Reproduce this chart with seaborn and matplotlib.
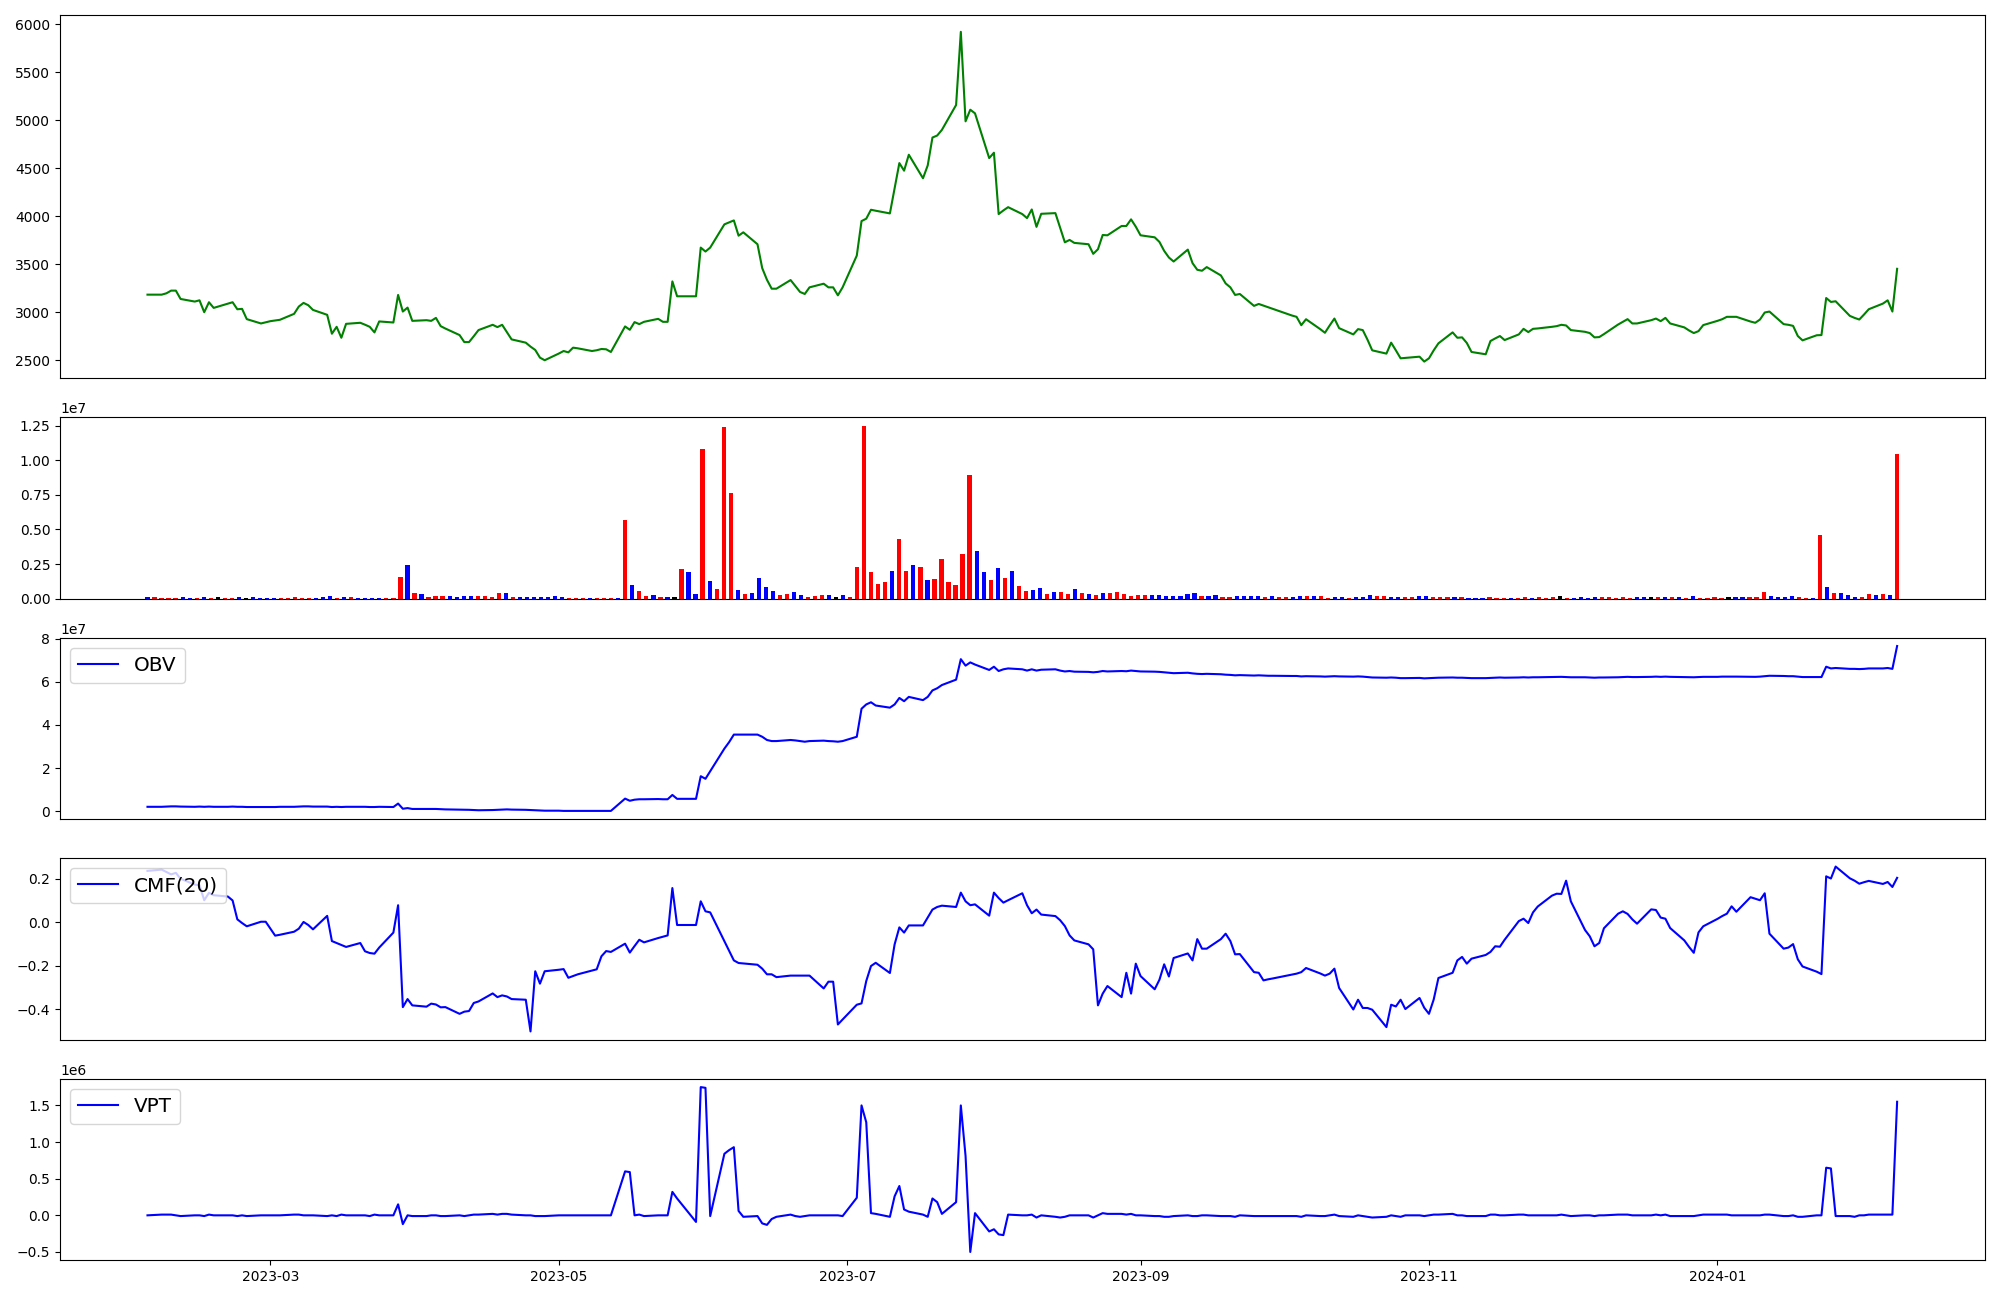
import matplotlib
matplotlib.use("Agg")
import matplotlib.pyplot as plt
import seaborn as sns
import pandas as pd
import numpy as np

# weekday dates of the line panels
dates = pd.bdate_range("2023-02-03", "2024-02-08")

close = [
    3183, 3183, 3197, 3225, 3225, 3138, 3111, 3124, 3000, 3104, 3045, 3090, 3104, 3031, 3035, 2928, 2883, 2895,
    2907, 2914, 2921, 2983, 3059, 3097, 3073, 3024, 2973, 2776, 2848, 2734, 2879, 2890, 2870, 2848, 2790, 2904,
    2893, 3180, 3007, 3048, 2910,
    2917, 2910, 2941, 2855, 2830, 2762, 2689, 2689, 2750, 2814, 2869, 2845, 2869, 2793, 2717, 2683, 2642, 2607,
    2527, 2500,
    2570, 2596, 2582, 2631, 2624, 2596, 2604, 2617, 2614, 2586, 2852, 2817, 2897, 2876, 2900, 2931, 2900, 2900,
    3321, 3166, 3166, 3166, 3673,
    3632, 3673, 3915, 3936, 3956, 3797, 3832, 3708, 3459, 3338, 3245, 3245, 3335, 3273, 3211, 3190, 3259, 3297,
    3259, 3259, 3176, 3259,
    3590, 3949, 3974, 4067, 4057, 4029, 4291, 4553, 4474, 4640, 4395, 4529, 4819, 4840, 4899, 5158, 5920, 4988,
    5109, 5071, 4605,
    4661, 4022, 4060, 4094, 4022, 3980, 4070, 3889, 4025, 4032, 3880, 3728, 3753, 3722, 3708, 3608, 3656, 3804,
    3801, 3898, 3898, 3967, 3891,
    3801, 3780, 3732, 3639, 3570, 3528, 3652, 3511, 3442, 3432, 3470, 3383, 3300, 3259, 3180, 3190, 3066, 3086,
    3069, 3052, 3035,
    2983, 2966, 2952, 2865, 2927, 2824, 2786, 2862, 2934, 2834, 2769, 2824, 2814, 2714, 2603, 2569, 2683, 2603,
    2520, 2524, 2537, 2486,
    2520, 2603, 2676, 2790, 2734, 2738, 2680, 2586, 2562, 2700, 2727, 2752, 2710, 2769, 2827, 2793, 2827, 2831,
    2848, 2855, 2869, 2862,
    2814, 2796, 2783, 2738, 2741, 2772, 2872, 2900, 2928, 2883, 2883, 2917, 2934, 2907, 2941, 2883, 2842, 2810,
    2783, 2803, 2866,
    2910, 2927, 2952, 2952, 2952, 2903, 2890, 2924, 2997, 3007, 2876, 2869, 2858, 2752, 2707, 2760, 2762, 3148,
    3107, 3114, 2962, 2941, 2924,
    2976, 3031, 3090, 3124, 3007, 3452,
]

obv_e7 = [
    0.20, 0.20, 0.21, 0.22, 0.22, 0.21, 0.20, 0.21, 0.20, 0.21, 0.20, 0.20, 0.21, 0.20, 0.20, 0.19, 0.19, 0.19,
    0.19, 0.19, 0.20, 0.20, 0.21, 0.22, 0.22, 0.21, 0.21, 0.19, 0.20, 0.19, 0.20, 0.20, 0.20, 0.19, 0.19, 0.20,
    0.19, 0.35, 0.11, 0.14, 0.10,
    0.10, 0.10, 0.10, 0.09, 0.08, 0.07, 0.07, 0.06, 0.05, 0.04, 0.05, 0.06, 0.07, 0.08, 0.07, 0.06, 0.05, 0.04,
    0.03, 0.02,
    0.02, 0.01, 0.01, 0.01, 0.01, 0.01, 0.01, 0.01, 0.01, 0.01, 0.58, 0.48, 0.53, 0.55, 0.55, 0.56, 0.55, 0.55,
    0.75, 0.57, 0.57, 0.57, 1.62,
    1.50, 1.85, 2.90, 3.20, 3.55, 3.55, 3.55, 3.55, 3.45, 3.30, 3.25, 3.25, 3.30, 3.28, 3.25, 3.22, 3.25, 3.27,
    3.25, 3.24, 3.22, 3.25,
    3.45, 4.75, 4.95, 5.05, 4.90, 4.80, 4.95, 5.25, 5.10, 5.30, 5.15, 5.30, 5.60, 5.70, 5.85, 6.10, 7.05, 6.75,
    6.90, 6.80, 6.55,
    6.70, 6.50, 6.58, 6.62, 6.58, 6.52, 6.58, 6.52, 6.56, 6.58, 6.52, 6.48, 6.50, 6.47, 6.46, 6.44, 6.46, 6.50,
    6.48, 6.50, 6.49, 6.52, 6.50,
    6.48, 6.47, 6.46, 6.44, 6.42, 6.40, 6.42, 6.39, 6.37, 6.36, 6.37, 6.35, 6.33, 6.32, 6.30, 6.31, 6.29, 6.30,
    6.29, 6.28, 6.28,
    6.27, 6.27, 6.27, 6.25, 6.26, 6.25, 6.24, 6.25, 6.26, 6.25, 6.24, 6.25, 6.24, 6.22, 6.20, 6.19, 6.20, 6.19,
    6.17, 6.17, 6.18, 6.16,
    6.17, 6.18, 6.19, 6.20, 6.19, 6.19, 6.18, 6.17, 6.17, 6.18, 6.19, 6.20, 6.19, 6.20, 6.21, 6.20, 6.21, 6.21,
    6.22, 6.22, 6.23, 6.22,
    6.21, 6.21, 6.20, 6.19, 6.20, 6.20, 6.21, 6.22, 6.23, 6.22, 6.22, 6.23, 6.24, 6.23, 6.24, 6.23, 6.22, 6.22,
    6.21, 6.22, 6.23,
    6.23, 6.24, 6.24, 6.24, 6.24, 6.23, 6.23, 6.24, 6.26, 6.28, 6.27, 6.26, 6.26, 6.24, 6.22, 6.22, 6.22, 6.70,
    6.62, 6.64, 6.60, 6.60, 6.59,
    6.60, 6.62, 6.62, 6.64, 6.60, 7.66,
]

cmf20 = [
    0.236, 0.242, 0.231, 0.220, 0.227, 0.200, 0.173, 0.170, 0.101, 0.135, 0.124, 0.118, 0.100, 0.013, -0.004,
    -0.019, 0.002, 0.002,
    -0.030, -0.062, -0.058, -0.044, -0.030, 0.001, -0.013, -0.033, 0.029, -0.087, -0.096, -0.105, -0.114, -0.096,
    -0.134, -0.142, -0.145, -0.117, -0.048, 0.078, -0.391, -0.354, -0.383,
    -0.389, -0.375, -0.379, -0.392, -0.391, -0.422, -0.412, -0.409, -0.372, -0.365, -0.328, -0.345, -0.337,
    -0.342, -0.354, -0.357, -0.503, -0.226, -0.283, -0.226,
    -0.219, -0.216, -0.256, -0.248, -0.240, -0.223, -0.217, -0.157, -0.133, -0.137, -0.099, -0.140, -0.110,
    -0.081, -0.093, -0.073, -0.067, -0.061, 0.157, -0.013, -0.013, -0.013, 0.096,
    0.050, 0.045, -0.087, -0.131, -0.176, -0.188, -0.190, -0.196, -0.214, -0.240, -0.240, -0.253, -0.246,
    -0.246, -0.246, -0.246, -0.246, -0.305, -0.274, -0.274, -0.471, -0.448,
    -0.380, -0.374, -0.271, -0.202, -0.187, -0.234, -0.102, -0.024, -0.048, -0.015, -0.015, 0.022, 0.058, 0.070,
    0.076, 0.070, 0.136, 0.096, 0.078, 0.082, 0.030,
    0.136, 0.111, 0.090, 0.101, 0.133, 0.078, 0.041, 0.058, 0.035, 0.028, 0.009, -0.018, -0.061, -0.084,
    -0.102, -0.125, -0.383, -0.329, -0.294, -0.345, -0.233, -0.329, -0.191,
    -0.248, -0.309, -0.265, -0.194, -0.250, -0.165, -0.144, -0.176, -0.078, -0.122, -0.122, -0.078, -0.053,
    -0.087, -0.148, -0.147, -0.230, -0.233, -0.268, -0.263, -0.259,
    -0.246, -0.242, -0.237, -0.230, -0.211, -0.236, -0.246, -0.237, -0.214, -0.303, -0.402, -0.357, -0.395,
    -0.395, -0.403, -0.483, -0.380, -0.388, -0.357, -0.400, -0.349, -0.394,
    -0.422, -0.356, -0.257, -0.233, -0.176, -0.160, -0.191, -0.168, -0.151, -0.137, -0.111, -0.113, -0.081,
    0.005, 0.016, -0.004, 0.045, 0.072, 0.122, 0.131, 0.130, 0.191,
    0.096, -0.036, -0.065, -0.111, -0.096, -0.028, 0.039, 0.050, 0.038, 0.013, -0.007, 0.059, 0.056, 0.021,
    0.016, -0.027, -0.084, -0.114, -0.141, -0.047, -0.019,
    0.015, 0.028, 0.039, 0.073, 0.048, 0.115, 0.108, 0.101, 0.133, -0.053, -0.122, -0.117, -0.101, -0.171,
    -0.204, -0.228, -0.239, 0.211, 0.201, 0.256, 0.202, 0.191, 0.177,
    0.184, 0.190, 0.176, 0.185, 0.162, 0.204,
]

vpt_e6 = [
    0.0, 0.01, 0.01, 0.01, 0.0, -0.01, 0.0, 0.0, -0.01, 0.01, 0.0, 0.0, 0.0, -0.01, 0.0, -0.01, 0.0, 0.0,
    0.0, 0.0, 0.0, 0.01, 0.01, 0.0, 0.0, 0.0, -0.01, 0.0, -0.01, 0.01, 0.0, 0.0, 0.0, -0.01, 0.01, 0.0, 0.0,
    0.15, -0.12, 0.0, -0.01,
    -0.01, 0.0, 0.0, -0.01, -0.01, 0.0, -0.01, 0.0, 0.01, 0.01, 0.02, 0.01, 0.02, 0.02, 0.01, 0.0, 0.0, -0.01,
    -0.01, -0.01,
    0.0, 0.0, 0.0, 0.0, 0.0, 0.0, 0.0, 0.0, 0.0, 0.0, 0.60, 0.59, 0.0, 0.01, -0.01, 0.0, 0.0, 0.0, 0.32, 0.23,
    -0.01, -0.09, 1.75,
    1.74, -0.01, 0.84, 0.89, 0.93, 0.06, -0.02, -0.01, -0.11, -0.13, -0.05, -0.02, 0.01, -0.01, -0.02, -0.01,
    0.0, 0.0, 0.0, 0.0, 0.0, -0.01,
    0.24, 1.50, 1.27, 0.03, 0.02, -0.02, 0.26, 0.40, 0.08, 0.05, 0.01, -0.02, 0.23, 0.18, 0.02, 0.18, 1.50, 0.81,
    -0.50, 0.03, -0.22,
    -0.19, -0.26, -0.27, 0.01, 0.0, 0.0, 0.01, -0.03, 0.0, -0.02, -0.03, -0.02, 0.0, 0.0, 0.0, -0.03, 0.0, 0.03,
    0.02, 0.02, 0.01, 0.02, 0.0,
    0.0, -0.01, -0.01, -0.02, -0.02, -0.01, 0.0, -0.01, -0.01, 0.0, 0.0, -0.01, -0.01, -0.01, -0.02, 0.0, -0.01,
    -0.01, -0.01, -0.01, -0.01,
    -0.01, -0.01, -0.01, -0.02, 0.0, -0.01, -0.01, 0.0, 0.01, -0.01, -0.02, 0.0, -0.01, -0.02, -0.03, -0.02,
    0.0, -0.01, -0.02, 0.0, 0.0, -0.01,
    0.0, 0.01, 0.01, 0.02, 0.0, 0.0, -0.01, -0.01, -0.01, 0.01, 0.01, 0.0, 0.0, 0.01, 0.01, 0.0, 0.0, 0.0, 0.0,
    0.0, 0.01, 0.0,
    -0.01, 0.0, 0.0, -0.01, 0.0, 0.0, 0.01, 0.01, 0.01, 0.0, 0.0, 0.0, 0.01, 0.0, 0.01, -0.01, -0.01, -0.01,
    -0.01, 0.0, 0.01,
    0.01, 0.01, 0.01, 0.0, 0.0, 0.0, 0.0, 0.0, 0.01, 0.01, -0.01, -0.01, 0.0, -0.02, -0.02, 0.0, 0.0, 0.65,
    0.64, -0.01, -0.01, -0.02, 0.0,
    0.0, 0.01, 0.01, 0.01, 0.01, 1.55,
]

# volume bars, millions, one per trading session
volume_m = [
    0.14, 0.14, 0.07, 0.07, 0.07, 0.14, 0.07, 0.07, 0.14, 0.07,
    0.14, 0.07, 0.07, 0.14, 0.07, 0.14, 0.07, 0.07, 0.07, 0.07,
    0.07, 0.14, 0.07, 0.07, 0.07, 0.14, 0.22, 0.07, 0.14, 0.14,
    0.07, 0.07, 0.07, 0.07, 0.07, 0.07, 1.58, 2.44, 0.43, 0.36,
    0.14, 0.22, 0.22, 0.22, 0.14, 0.22, 0.22, 0.22, 0.22, 0.14,
    0.43, 0.43, 0.14, 0.14, 0.14, 0.14, 0.14, 0.14, 0.22, 0.14,
    0.07, 0.07, 0.07, 0.07, 0.07, 0.07, 0.07, 0.07, 5.67, 1.00,
    0.57, 0.22, 0.29, 0.14, 0.14, 0.14, 2.15, 1.94, 0.36, 10.84,
    1.29, 0.72, 12.42, 7.61, 0.65, 0.36, 0.43, 1.51, 0.86, 0.57,
    0.29, 0.36, 0.50, 0.29, 0.14, 0.22, 0.29, 0.29, 0.14, 0.29,
    0.14, 2.30, 12.49, 1.94, 1.08, 1.22, 2.01, 4.31, 2.01, 2.44,
    2.30, 1.36, 1.44, 2.87, 1.22, 1.00, 3.23, 8.97, 3.44, 1.94,
    1.36, 2.22, 1.51, 2.01, 0.93, 0.57, 0.65, 0.79, 0.36, 0.50,
    0.50, 0.36, 0.72, 0.43, 0.36, 0.29, 0.43, 0.43, 0.50, 0.36,
    0.22, 0.29, 0.29, 0.29, 0.29, 0.22, 0.22, 0.22, 0.36, 0.43,
    0.22, 0.22, 0.29, 0.14, 0.14, 0.22, 0.22, 0.22, 0.22, 0.14,
    0.22, 0.14, 0.14, 0.14, 0.22, 0.22, 0.22, 0.22, 0.07, 0.14,
    0.14, 0.07, 0.14, 0.14, 0.29, 0.22, 0.22, 0.14, 0.14, 0.14,
    0.14, 0.22, 0.22, 0.14, 0.14, 0.14, 0.14, 0.14, 0.07, 0.07,
    0.07, 0.14, 0.07, 0.07, 0.07, 0.07, 0.14, 0.07, 0.14, 0.07,
    0.14, 0.22, 0.07, 0.07, 0.14, 0.07, 0.14, 0.14, 0.14, 0.07,
    0.14, 0.07, 0.14, 0.14, 0.14, 0.14, 0.14, 0.14, 0.14, 0.07,
    0.22, 0.07, 0.07, 0.14, 0.07, 0.14, 0.14, 0.14, 0.14, 0.14,
    0.50, 0.22, 0.14, 0.14, 0.22, 0.14, 0.07, 0.07, 4.59, 0.86,
    0.43, 0.43, 0.29, 0.14, 0.14, 0.36, 0.29, 0.36, 0.29, 10.48,
]

# u = up day, d = down day, f = unchanged
bar_dir = (
    "duuuuddudu" "fuudfddddu" "uuuudddudu" "dddduuudud" "uuudddduuu"
    "ududdddddd" "uuuduuudud" "uududfuddu" "duuududddd" "uudduuudfd"
    "uuuuuuduud" "uduuuuuudd" "ududuuddud" "uudududuuu" "uuuddddddd"
    "udduuddddu" "duudduduud" "duddduuddu" "udduuududd" "duuuduuduu"
    "ufudddduuu" "uuddfududu" "duuuufdduu" "udddduudud" "uddduududu"
)

df = pd.DataFrame({
    "date": dates,
    "close": close,
    "obv": np.array(obv_e7) * 1e7,
    "cmf": cmf20,
    "vpt": np.array(vpt_e6) * 1e6,
})
vol = pd.DataFrame({
    "n": np.arange(len(volume_m)),
    "volume": np.array(volume_m) * 1e6,
    "dir": list(bar_dir),
})

fig = plt.figure(figsize=(20, 13), dpi=100)
gs = fig.add_gridspec(5, 1, height_ratios=[2, 1, 1, 1, 1])
fig.subplots_adjust(left=0.03, right=0.9923, top=0.9882, bottom=0.0306, hspace=0.18)
ax1 = fig.add_subplot(gs[0])
ax2 = fig.add_subplot(gs[1])
ax3 = fig.add_subplot(gs[2])
ax4 = fig.add_subplot(gs[3])
ax5 = fig.add_subplot(gs[4])

sns.lineplot(data=df, x="date", y="close", color="green", ax=ax1)

sns.barplot(data=vol, x="n", y="volume", hue="dir",
            palette={"u": "red", "d": "blue", "f": "black"},
            dodge=False, width=0.6, saturation=1, errorbar=None, legend=False, ax=ax2)
last = len(vol) - 1
ax2.set_xlim(-0.05 * last, 1.05 * last)

sns.lineplot(data=df, x="date", y="obv", color="blue", label="OBV", ax=ax3)
sns.lineplot(data=df, x="date", y="cmf", color="blue", label="CMF(20)", ax=ax4)
sns.lineplot(data=df, x="date", y="vpt", color="blue", label="VPT", ax=ax5)

for ax in (ax3, ax4, ax5):
    ax.legend(loc="upper left", fontsize=14.4)

for ax in (ax1, ax2, ax3, ax4, ax5):
    ax.set_xlabel("")
    ax.set_ylabel("")
for ax in (ax1, ax2, ax3, ax4):
    ax.tick_params(axis="x", bottom=False, labelbottom=False)

fig.savefig("out.png", dpi=100)
